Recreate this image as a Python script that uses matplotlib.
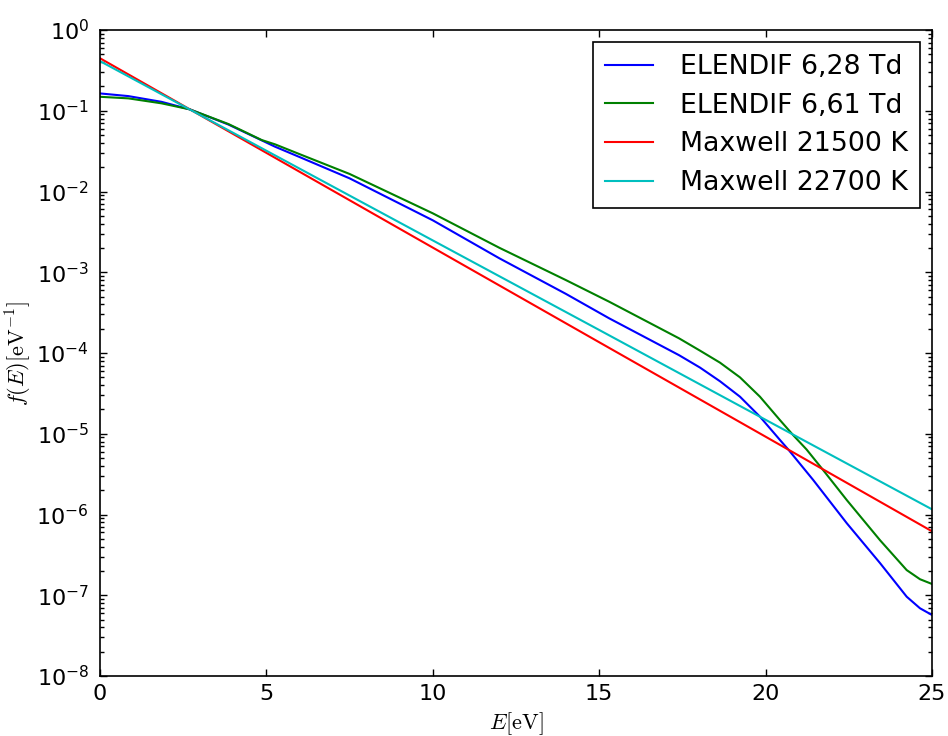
import math
import matplotlib
matplotlib.use("Agg")
import matplotlib.pyplot as plt
from matplotlib.ticker import FuncFormatter, LogLocator, NullFormatter, MultipleLocator

# ===============================
# DATA
# ===============================
E_MAX = [0.0, 5.0, 10.0, 15.0, 20.0, 25.0]
f_max_21500 = [0.447, 0.0301, 2.02e-3, 1.36e-4, 9.2e-6, 6.2e-7]
f_max_22700 = [0.412, 0.032, 2.48e-3, 1.93e-4, 1.49e-5, 1.16e-6]

E_628 = [0.0, 0.85, 1.85, 2.7, 3.86, 4.86, 5.26, 6.0, 7.5, 10.0, 12.0,
         14.0, 15.3, 17.4, 18.03, 18.63, 19.23, 19.83, 20.43, 20.68, 21.43,
         22.44, 23.44, 24.24, 24.64, 25.0]
f_628 = [0.164, 0.152, 0.129, 0.104, 0.0675, 0.043, 0.0359, 0.0267,
         0.01456, 4.4e-3, 1.49e-3, 5.4e-4, 2.69e-4, 9.4e-5, 6.6e-5,
         4.47e-5, 2.88e-5, 1.63e-5, 8.4e-6, 6.4e-6, 2.68e-6, 7.8e-7, 2.5e-7,
         9.6e-8, 6.9e-8, 5.7e-8]

E_661 = [0.0, 0.85, 1.85, 2.7, 3.86, 4.86, 5.26, 6.0, 7.5, 10.0, 12.0,
         14.0, 15.3, 17.4, 18.03, 18.63, 19.23, 19.83, 20.43, 20.83, 21.23,
         21.73, 22.44, 23.44, 24.24, 24.64, 25.0]
f_661 = [0.149, 0.1425, 0.1236, 0.104, 0.0685, 0.0434, 0.0384, 0.029,
         0.0165, 5.37e-3, 2.01e-3, 8.0e-4, 4.32e-4, 1.52e-4, 1.07e-4,
         7.6e-5, 5.0e-5, 2.88e-5, 1.48e-5, 9.6e-6, 6.4e-6, 3.55e-6, 1.51e-6,
         4.8e-7, 2.05e-7, 1.58e-7, 1.38e-7]

labels = ['ELENDIF 6,28 Td', 'ELENDIF 6,61 Td', 'Maxwell 21500 K', 'Maxwell 22700 K']

# ===============================
# STYLE
# ===============================
plt.rcParams['mathtext.fontset'] = 'cm'
plt.rcParams['font.family'] = 'DejaVu Sans'


def log_label(v, pos):
    return r'$\mathregular{10^{%d}}$' % round(math.log10(v))


fig = plt.figure(figsize=(9.48, 7.36), dpi=100)
ax = fig.add_axes([0.1055, 0.0815, 0.8776, 0.8777])

ax.plot(E_628, f_628, color='#0000ff', lw=1.5, label=labels[0])
ax.plot(E_661, f_661, color='#008000', lw=1.5, label=labels[1])
ax.plot(E_MAX, f_max_21500, color='#ff0000', lw=1.5, label=labels[2])
ax.plot(E_MAX, f_max_22700, color='#00bfbf', lw=1.5, label=labels[3])

ax.set_yscale('log')
ax.set_xlim(0, 25)
ax.set_ylim(1e-8, 1e0)

ax.xaxis.set_major_locator(MultipleLocator(5))
ax.yaxis.set_major_locator(LogLocator(base=10, numticks=20))
ax.yaxis.set_minor_locator(LogLocator(base=10, subs=range(2, 10), numticks=20))
ax.yaxis.set_minor_formatter(NullFormatter())
ax.yaxis.set_major_formatter(FuncFormatter(log_label))

ax.tick_params(which='both', direction='in', top=True, right=True, labelsize=16)
ax.tick_params(which='major', length=5, width=1)
ax.tick_params(which='minor', length=3, width=1)
ax.tick_params(axis='y', which='major', pad=8)
ax.tick_params(axis='x', which='major', pad=6)
for s in ax.spines.values():
    s.set_linewidth(1.2)

ax.set_xlabel(r'$E[\mathrm{eV}]$', fontsize=16, labelpad=4)
ax.set_ylabel(r'$f(E)[\mathrm{eV}^{-1}]$', fontsize=16, labelpad=2)

leg = ax.legend(loc='upper right', fontsize=19.3, fancybox=False, framealpha=1,
                edgecolor='black', handlelength=1.8, handletextpad=1.0,
                borderpad=0.45, labelspacing=0.47, borderaxespad=0.45)
leg.get_frame().set_linewidth(1.2)

fig.savefig('out.png', dpi=100)
